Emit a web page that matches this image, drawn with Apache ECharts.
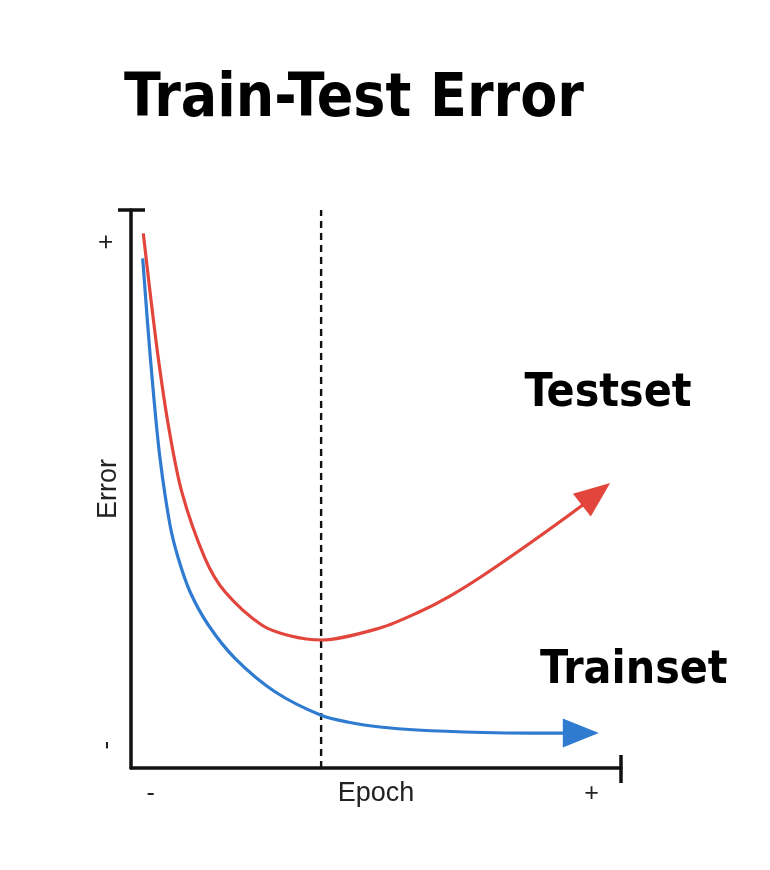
<!DOCTYPE html>
<html>
<head>
<meta charset="utf-8">
<script src="https://cdn.jsdelivr.net/npm/echarts@6/dist/echarts.min.js"></script>
<style>html,body{margin:0;padding:0;background:#fff}#c{width:770px;height:870px}</style>
</head>
<body>
<div id="c"></div>
<script>
// ---- data ----
const titleText = 'Train-Test Error';
const testName = 'Testset';
const trainName = 'Trainset';
const xName = 'Epoch';
const yName = 'Error';
// test error curve [epoch, error]
const testX = [2.51, 3.88, 5.57, 7.61, 10.35, 15.10, 19.18, 26.67, 32.4, 38.92, 50.82, 58.37, 65.1, 71.84, 82.04, 91.63];
const testY = [95.82, 85.36, 73.42, 61.47, 49.52, 37.58, 31.59, 25.63, 23.7, 22.94, 25.09, 27.78, 30.82, 34.5, 40.68, 46.77];
// train error curve
const trainX = [2.39, 3.41, 4.55, 5.92, 7.96, 9.65, 12.04, 15.78, 21.22, 29.39, 38.92, 44.69, 50.82, 58.37, 71.84, 81.43, 88.16];
const trainY = [91.34, 79.39, 67.44, 55.50, 43.55, 37.58, 31.59, 25.63, 19.66, 13.67, 9.40, 8.15, 7.35, 6.81, 6.36, 6.24, 6.24];
// arrow heads at the curve ends [x, y, direction in degrees]
const testArrow = [94.9, 49.1, 38];
const trainArrow = [91.8, 6.27, 0];
// dashed marker of the optimal epoch
const optimalEpoch = 38.8;
// tick labels
const xTickValues = [4, 94];
const xTickLabels = ['-', '+'];
const yTickValues = [4.1, 94.3];
const yTickLabels = ['-', '+'];
const axisMin = 0, axisMax = 100;

const RED = '#e2453c', BLUE = '#2f7bd0';
const zip = (a, b) => a.map((v, i) => [v, b[i]]);
const labelFont = {fontFamily: 'DejaVu Sans Condensed', fontWeight: 'bold', fontSize: 46, color: '#000'};

const chart = echarts.init(document.getElementById('c'), null, {renderer: 'canvas'});
chart.setOption({
  backgroundColor: '#fff',
  animation: false,
  title: {
    text: titleText, left: 119, top: 65,
    textStyle: {fontFamily: 'DejaVu Sans Condensed', fontWeight: 'bold', fontSize: 60, color: '#000'}
  },
  grid: {left: 131, right: 149, top: 210, bottom: 102},
  xAxis: [{
    type: 'value', min: axisMin, max: axisMax,
    name: xName, nameLocation: 'middle', nameGap: 12, nameMoveOverlap: false,
    nameTextStyle: {fontFamily: 'Liberation Sans', fontSize: 27, color: '#222'},
    axisLine: {lineStyle: {color: '#111', width: 3.5}},
    axisTick: {show: true, customValues: [axisMax], length: 15, lineStyle: {color: '#111', width: 3.5}},
    splitLine: {show: false},
    axisLabel: {
      customValues: xTickValues, margin: 14,
      formatter: v => xTickLabels[xTickValues.indexOf(v)],
      fontFamily: 'Liberation Sans', fontSize: 25, color: '#222'
    }
  }, {
    type: 'value', min: axisMin, max: axisMax, position: 'bottom', gridIndex: 0,
    axisLine: {show: false}, axisLabel: {show: false}, splitLine: {show: false},
    axisTick: {show: true, inside: true, customValues: [axisMax], length: 13, lineStyle: {color: '#111', width: 3.5}}
  }],
  yAxis: [{
    type: 'value', min: axisMin, max: axisMax,
    name: yName, nameLocation: 'middle', nameGap: 9, nameRotate: 90, nameMoveOverlap: false,
    nameTextStyle: {fontFamily: 'Liberation Sans', fontSize: 27, color: '#222'},
    axisLine: {lineStyle: {color: '#111', width: 3.5}},
    axisTick: {show: true, customValues: [axisMax], length: 13, lineStyle: {color: '#111', width: 3.5}},
    splitLine: {show: false},
    axisLabel: {
      customValues: yTickValues, margin: 11, rotate: 90,
      formatter: v => yTickLabels[yTickValues.indexOf(v)],
      fontFamily: 'Liberation Sans', fontSize: 26, color: '#222'
    }
  }, {
    type: 'value', min: axisMin, max: axisMax, position: 'left', gridIndex: 0,
    axisLine: {show: false}, axisLabel: {show: false}, splitLine: {show: false},
    axisTick: {show: true, inside: true, customValues: [axisMax], length: 14, lineStyle: {color: '#111', width: 3.5}}
  }],
  series: [
    {
      name: 'optimal', type: 'line', symbol: 'none', silent: true,
      data: [[optimalEpoch, axisMin], [optimalEpoch, axisMax]],
      lineStyle: {color: '#111', width: 2.4, type: [7, 5]}
    },
    {
      name: testName, type: 'line', smooth: 0.3, symbol: 'none',
      data: zip(testX, testY).concat([[testArrow[0], testArrow[1]]]),
      lineStyle: {color: RED, width: 3.2}
    },
    {
      name: trainName, type: 'line', smooth: 0.3, symbol: 'none',
      data: zip(trainX, trainY).concat([[trainArrow[0], trainArrow[1]]]),
      lineStyle: {color: BLUE, width: 3.2}
    },
    {
      name: 'heads', type: 'scatter', silent: true,
      symbol: 'triangle', symbolSize: [29, 36],
      itemStyle: {opacity: 1},
      data: [
        {value: [testArrow[0], testArrow[1]], symbolRotate: testArrow[2] - 90,
         itemStyle: {color: RED, opacity: 1},
         label: Object.assign({show: true, position: 'inside', formatter: testName, offset: [12, -100]}, labelFont)},
        {value: [trainArrow[0], trainArrow[1]], symbolRotate: trainArrow[2] - 90,
         itemStyle: {color: BLUE, opacity: 1},
         label: Object.assign({show: true, position: 'inside', formatter: trainName, offset: [53, -62]}, labelFont)}
      ]
    }
  ]
});
</script>
</body>
</html>
